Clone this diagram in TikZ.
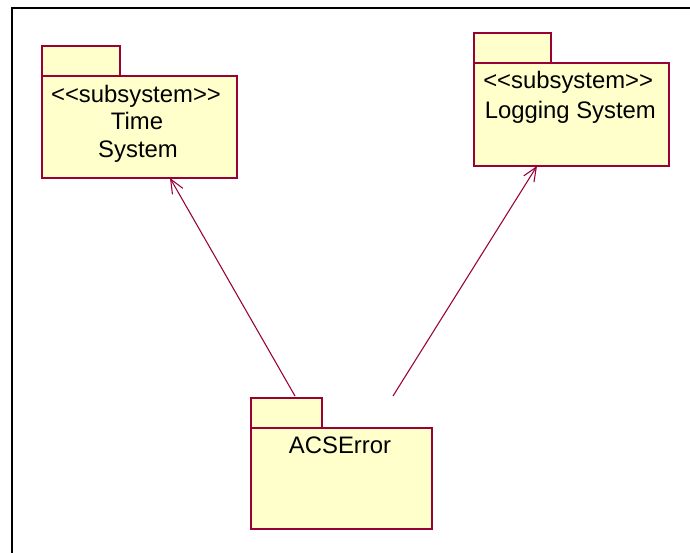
\documentclass[tikz,border=0pt]{standalone}
\usepackage{fontspec}
\setmainfont{Liberation Sans}
\usetikzlibrary{arrows.meta}
\definecolor{pkgfill}{HTML}{FFFFCC}
\definecolor{pkgline}{HTML}{990033}
\tikzset{
  pkgpart/.style={draw=pkgline, fill=pkgfill, line width=0.8pt, anchor=north west,
    inner sep=0pt, outer sep=0pt},
  pkglabel/.style={font=\fontsize{17.9pt}{21pt}\selectfont, inner sep=0pt, anchor=base},
  depend/.style={draw=pkgline, line width=0.8pt,
    -{Straight Barb[length=10.5pt, width=9pt, line width=0.8pt]}},
  frameline/.style={line width=1.6pt, black}
}
\begin{document}
\begin{tikzpicture}[x=0.75pt, y=-0.75pt]
  \useasboundingbox (0,0) rectangle (690,553);
  % outer frame
  \draw[frameline] (12,560) -- (12,8) -- (700,8);

  % Time System package
  \node[pkgpart, minimum width=58.5pt, minimum height=22.5pt] (timetab) at (42,46) {};
  \node[pkgpart, minimum width=146.25pt, minimum height=76.5pt] (time) at (42,76) {};
  \node[pkglabel] (timest) at (136,102) {<{}<subsystem>{}>};
  \node[pkglabel] (timen1) at (137,129) {Time};
  \node[pkglabel] (timen2) at (138,157) {System};

  % Logging System package
  \node[pkgpart, minimum width=57.75pt, minimum height=22.5pt] (logtab) at (474,33) {};
  \node[pkgpart, minimum width=146.25pt, minimum height=77.25pt] (logging) at (474,63) {};
  \node[pkglabel, anchor=base west] (logst) at (483,89) {<{}<subsystem>{}>};
  \node[pkglabel, anchor=base west] (logn) at (484.5,118) {Logging System};

  % ACSError package
  \node[pkgpart, minimum width=53.25pt, minimum height=22.5pt] (acstab) at (251,398) {};
  \node[pkgpart, minimum width=135.75pt, minimum height=75.75pt] (acs) at (251,428) {};
  \node[pkglabel] (acsn) at (340,453) {ACSError};

  % dependency end points
  \coordinate (srcA) at (295,396);
  \coordinate (srcB) at (393,396);
  \coordinate (dstA) at (170,178);
  \coordinate (dstB) at (537,166);

  \draw[depend] (srcA) -- (dstA);
  \draw[depend] (srcB) -- (dstB);
\end{tikzpicture}
\end{document}
